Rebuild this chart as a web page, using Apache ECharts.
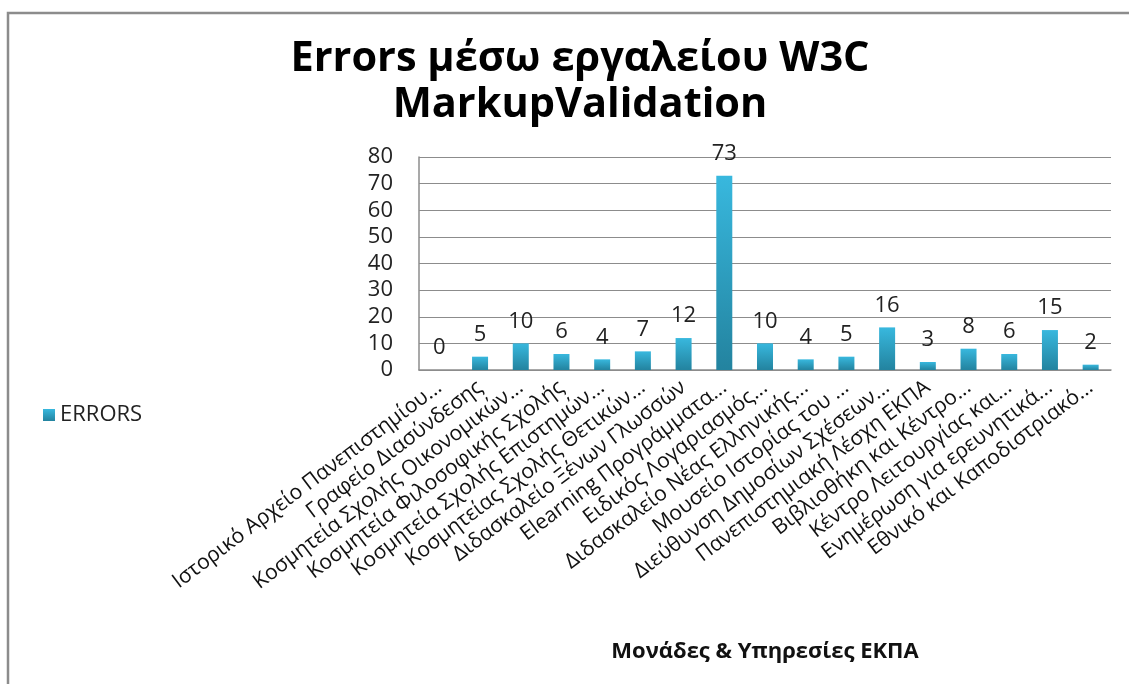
<!DOCTYPE html>
<html>
<head>
<meta charset="utf-8">
<script src="https://cdn.jsdelivr.net/npm/echarts@6/dist/echarts.min.js"></script>
<style>
html,body{margin:0;padding:0;background:#fff;}
#chart{width:1129px;height:684px;}
</style>
</head>
<body>
<div id="chart"></div>
<script>
const categories = [
  "Ιστορικό Αρχείο Πανεπιστημίου...",
  "Γραφείο Διασύνδεσης",
  "Κοσμητεία Σχολής Οικονομικών...",
  "Κοσμητεία Φιλοσοφικής Σχολής",
  "Κοσμητεία Σχολής Επιστημών...",
  "Κοσμητείας Σχολής Θετικών...",
  "Διδασκαλείο Ξένων Γλωσσών",
  "Elearning Προγράμματα...",
  "Ειδικός Λογαριασμός...",
  "Διδασκαλείο Νέας Ελληνικής...",
  "Μουσείο Ιστορίας του ...",
  "Διεύθυνση Δημοσίων Σχέσεων...",
  "Πανεπιστημιακή Λέσχη ΕΚΠΑ",
  "Βιβλιοθήκη και Κέντρο...",
  "Κέντρο Λειτουργίας και...",
  "Ενημέρωση για ερευνητικά...",
  "Εθνικό και Καποδιστριακό..."
];
const errors = [0, 5, 10, 6, 4, 7, 12, 73, 10, 4, 5, 16, 3, 8, 6, 15, 2];
const seriesName = "ERRORS";
const titleText = "Errors μέσω εργαλείου W3C\nMarkupValidation";
const xAxisName = "Μονάδες & Υπηρεσίες ΕΚΠΑ";

const chart = echarts.init(document.getElementById('chart'));
const font = "'Open Sans', 'Noto Sans', sans-serif";
chart.setOption({
  backgroundColor: '#fff',
  animation: false,
  title: {
    text: titleText,
    left: 575, top: 31, textAlign: 'center',
    textStyle: { fontFamily: font, fontWeight: 'bold', fontSize: 41.5, lineHeight: 46, color: '#000' }
  },
  graphic: [{
    type: 'rect', shape: { x: 8, y: 13, width: 1200, height: 800 },
    style: { fill: 'none', stroke: '#8c8c8c', lineWidth: 2.5 }, silent: true
  }],
  legend: {
    left: 38, top: 399, orient: 'vertical',
    itemWidth: 12, itemHeight: 12, icon: 'rect', itemGap: 8,
    textStyle: { fontFamily: font, fontSize: 22, color: '#222' },
    data: [seriesName]
  },
  grid: { left: 419, right: 18, top: 157, bottom: 314 },
  xAxis: {
    type: 'category', data: categories,
    name: xAxisName, nameLocation: 'middle', nameGap: 271,
    nameTextStyle: { fontFamily: font, fontWeight: 'bold', fontSize: 22, color: '#111' },
    axisLine: { lineStyle: { color: '#8c8c8c', width: 1.5 } },
    axisTick: { show: false },
    axisLabel: { interval: 0, rotate: 37, fontFamily: font, fontSize: 21, color: '#111', margin: 15 }
  },
  yAxis: {
    type: 'value', min: 0, max: 80, interval: 10,
    axisLine: { show: true, lineStyle: { color: '#8c8c8c', width: 1.5 } },
    axisTick: { show: false },
    splitLine: { lineStyle: { color: '#8c8c8c', width: 1.2 } },
    axisLabel: { fontFamily: font, fontSize: 22, color: '#222', margin: 26 }
  },
  series: [{
    name: seriesName, type: 'bar', data: errors, barWidth: 16,
    itemStyle: {
      color: new echarts.graphic.LinearGradient(0, 0, 0, 1, [
        { offset: 0, color: '#38b8de' },
        { offset: 1, color: '#23839f' }
      ])
    },
    label: { show: true, position: 'top', distance: 11, fontFamily: font, fontSize: 22, color: '#222' }
  }]
});
</script>
</body>
</html>
